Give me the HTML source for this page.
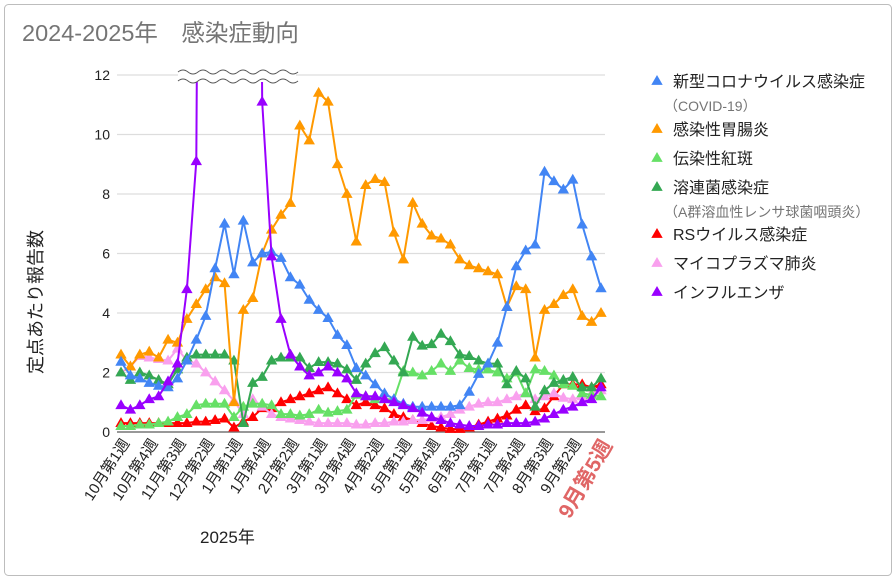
<!DOCTYPE html>
<html><head><meta charset="utf-8"><style>
body{margin:0;background:#fff;}
svg{display:block;font-family:"Liberation Sans","Noto Sans CJK JP",sans-serif;}
</style></head><body>
<svg id="c" width="896" height="580" viewBox="0 0 896 580">
<rect x="4.5" y="4.5" width="887" height="571" rx="4" fill="#fff" stroke="#bdbdbd"/>
<text x="22" y="41" font-size="23.5" fill="#757575">2024-2025年　感染症動向</text>
<text transform="translate(42,302) rotate(-90)" text-anchor="middle" font-size="18" fill="#222">定点あたり報告数</text>
<text x="200" y="543" font-size="17" fill="#222">2025年</text>
<g id="grid"></g><g id="series"></g><g id="xl"></g><g id="legend"></g>
</svg>
<script>
const categories=["10月第1週","10月第4週","11月第3週","12月第2週","1月第1週","1月第4週","2月第2週","3月第1週","3月第4週","4月第2週","5月第1週","5月第4週","6月第3週","7月第1週","7月第4週","8月第3週","9月第2週"];
const lastLabel="9月第5週";
const yTicks=[0,2,4,6,8,10,12];
const covid=[2.36,1.9,1.8,1.65,1.55,1.5,1.8,2.4,3.1,3.9,5.5,7.0,5.3,7.1,5.7,6.0,6.05,5.85,5.2,4.95,4.44,4.1,3.83,3.26,2.92,2.15,1.9,1.6,1.3,1.1,0.95,0.85,0.85,0.85,0.85,0.85,0.9,1.35,1.95,2.3,3.0,4.2,5.57,6.1,6.3,8.75,8.43,8.15,8.48,6.97,5.9,4.83];
const gastro=[2.6,2.2,2.6,2.7,2.5,3.1,3.0,3.8,4.3,4.8,5.2,5.0,1.0,4.1,4.5,6.0,6.8,7.3,7.7,10.3,9.8,11.4,11.1,9.0,8.0,6.4,8.3,8.5,8.4,6.7,5.8,7.7,7.0,6.6,6.5,6.3,5.8,5.6,5.5,5.4,5.3,4.2,4.9,4.8,2.5,4.1,4.3,4.6,4.8,3.9,3.7,4.0];
const erythema=[0.2,0.2,0.25,0.25,0.3,0.35,0.5,0.6,0.9,0.95,0.95,0.95,0.5,0.85,0.95,0.95,0.9,0.6,0.6,0.55,0.6,0.75,0.65,0.7,0.75,1.25,1.2,1.1,1.1,1.1,2.05,2.0,1.9,2.05,2.3,2.05,2.4,2.15,2.1,2.1,2.0,1.8,2.0,1.3,2.1,2.05,1.9,1.6,1.55,1.3,1.25,1.2];
const strep=[2.0,1.75,2.0,1.9,1.75,1.6,2.1,2.5,2.6,2.6,2.6,2.6,2.4,0.3,1.65,1.85,2.4,2.5,2.5,2.5,2.15,2.35,2.35,2.3,2.1,1.75,2.3,2.65,2.85,2.4,2.0,3.2,2.9,2.95,3.3,3.05,2.6,2.55,2.4,2.3,2.3,1.6,2.05,1.8,0.85,1.4,1.65,1.75,1.85,1.5,1.5,1.8];
const rsv=[0.3,0.3,0.3,0.3,0.3,0.3,0.3,0.3,0.35,0.35,0.4,0.45,0.15,0.35,0.5,0.8,0.8,1.0,1.1,1.2,1.3,1.4,1.5,1.3,1.1,0.9,1.0,0.9,0.8,0.6,0.5,0.4,0.3,0.2,0.15,0.1,0.1,0.15,0.25,0.35,0.45,0.55,0.75,0.9,0.7,0.8,1.2,1.6,1.6,1.6,1.5,1.6];
const myco=[2.0,2.2,2.55,2.5,2.45,2.4,2.8,2.4,2.3,2.0,1.7,1.4,1.05,0.6,1.1,0.85,0.6,0.5,0.45,0.4,0.35,0.3,0.3,0.3,0.3,0.25,0.25,0.3,0.3,0.35,0.35,0.4,0.4,0.45,0.5,0.6,0.75,0.85,0.95,1.0,1.0,1.1,1.2,1.3,1.1,1.2,1.3,1.15,1.1,1.2,1.3,1.4];
const flu=[0.9,0.75,0.9,1.1,1.2,1.7,2.3,4.8,9.1,60,60,60,60,60,60,11.1,5.9,3.8,2.6,2.2,1.9,2.0,2.2,2.0,1.8,1.3,1.2,1.2,1.1,1.0,0.9,0.8,0.65,0.5,0.4,0.3,0.25,0.2,0.2,0.25,0.25,0.3,0.3,0.3,0.35,0.45,0.6,0.75,0.85,1.0,1.1,1.5];

const NS="http://www.w3.org/2000/svg";
const X0=121,X1=601,Y0=432,YT=75,YMAX=12;
const N=covid.length;
const xs=i=>X0+i*(X1-X0)/(N-1);
const ys=v=>Y0-v*(Y0-YT)/YMAX;
function mk(tag,attrs,parent){const e=document.createElementNS(NS,tag);for(const k in attrs)e.setAttribute(k,attrs[k]);parent.appendChild(e);return e;}
const svg=document.getElementById('c');
const grid=document.getElementById('grid');
const defs=mk('defs',{},svg);
const cp=mk('clipPath',{id:'pc'},defs);
mk('rect',{x:100,y:YT,width:520,height:Y0-YT+12},cp);
yTicks.forEach(t=>{
  const l=mk('line',{x1:117,x2:605,y1:ys(t),y2:ys(t),stroke:t===0?'#777':'#ddd','stroke-width':t===0?1.5:1.2},grid);
  
  
  const tx=mk('text',{x:110,y:ys(t)+5,'text-anchor':'end','font-size':14,fill:'#222'},grid);
  tx.textContent=t;
  
  
});
const series=[
 {d:rsv,c:'#ff0000',n:'rsv'},
 {d:myco,c:'#f9a0ee',n:'mycoplasma'},
 {d:erythema,c:'#66e066',n:'erythema'},
 {d:strep,c:'#34a853',n:'strep'},
 {d:gastro,c:'#ff9900',n:'gastroenteritis'},
 {d:covid,c:'#4285f4',n:'covid'},
 {d:flu,c:'#9900ff',n:'influenza'}
];
const sg=document.getElementById('series');
sg.setAttribute('clip-path','url(#pc)');
function tri(x,y,s){return `${x},${y-s} ${x-s*0.95},${y+s*0.65} ${x+s*0.95},${y+s*0.65}`;}
series.forEach(s=>{
  const g=mk('g',{},sg);
  
  
  const pts=s.d.map((v,i)=>xs(i)+','+ys(v)).join(' ');
  const pl=mk('polyline',{points:pts,fill:'none',stroke:s.c,'stroke-width':2,'stroke-linejoin':'round'},g);
  
  
  s.d.forEach((v,i)=>{
    if(v>YMAX)return;
    const p=mk('polygon',{points:tri(xs(i),ys(v),6),fill:s.c},g);
    
    
  });
});
const br=mk('g',{},svg);


function wave(y){let d=`M178,${y}`;for(let x=178;x<296;x+=20){d+=` q5,-4 10,0 q5,4 10,0`;}return d;}
mk('rect',{x:178,y:71,width:118,height:11,fill:'#fff'},br);
mk('path',{d:wave(72),fill:'none',stroke:'#555','stroke-width':1},br);
mk('path',{d:wave(81),fill:'none',stroke:'#555','stroke-width':1},br);
const xl=document.getElementById('xl');
categories.forEach((c,k)=>{
  const x=xs(k*3)+9,y=443;
  const t=mk('text',{x:x,y:y,'text-anchor':'end','font-size':15,fill:'#222',transform:`rotate(-57 ${x} ${y})`},xl);
  t.textContent=c;
  
  
});
{
  const x=xs(N-1)+12,y=445;
  const t=mk('text',{x:x,y:y,'text-anchor':'end','font-size':21,'font-weight':'bold',fill:'#e06666',transform:`rotate(-60 ${x} ${y})`},xl);
  t.textContent=lastLabel;
  
  
}
const lg=document.getElementById('legend');
const items=[
 ['新型コロナウイルス感染症','#4285f4',82,'（COVID-19）'],
 ['感染性胃腸炎','#ff9900',130,null],
 ['伝染性紅斑','#66e066',159,null],
 ['溶連菌感染症','#34a853',188,'（A群溶血性レンサ球菌咽頭炎）'],
 ['RSウイルス感染症','#ff0000',235,null],
 ['マイコプラズマ肺炎','#f9a0ee',264,null],
 ['インフルエンザ','#9900ff',293,null]
];
items.forEach(it=>{
  const g=mk('g',{},lg);
  
  
  mk('polygon',{points:tri(657,it[2]-1,6),fill:it[1]},g);
  const t=mk('text',{x:673,y:it[2]+5,'font-size':16,fill:'#222'},g);
  t.textContent=it[0];
  if(it[3]){
    const s=mk('text',{x:664,y:it[2]+29,'font-size':14,fill:'#757575'},g);
    s.textContent=it[3];
  }
});
</script>
</body></html>
